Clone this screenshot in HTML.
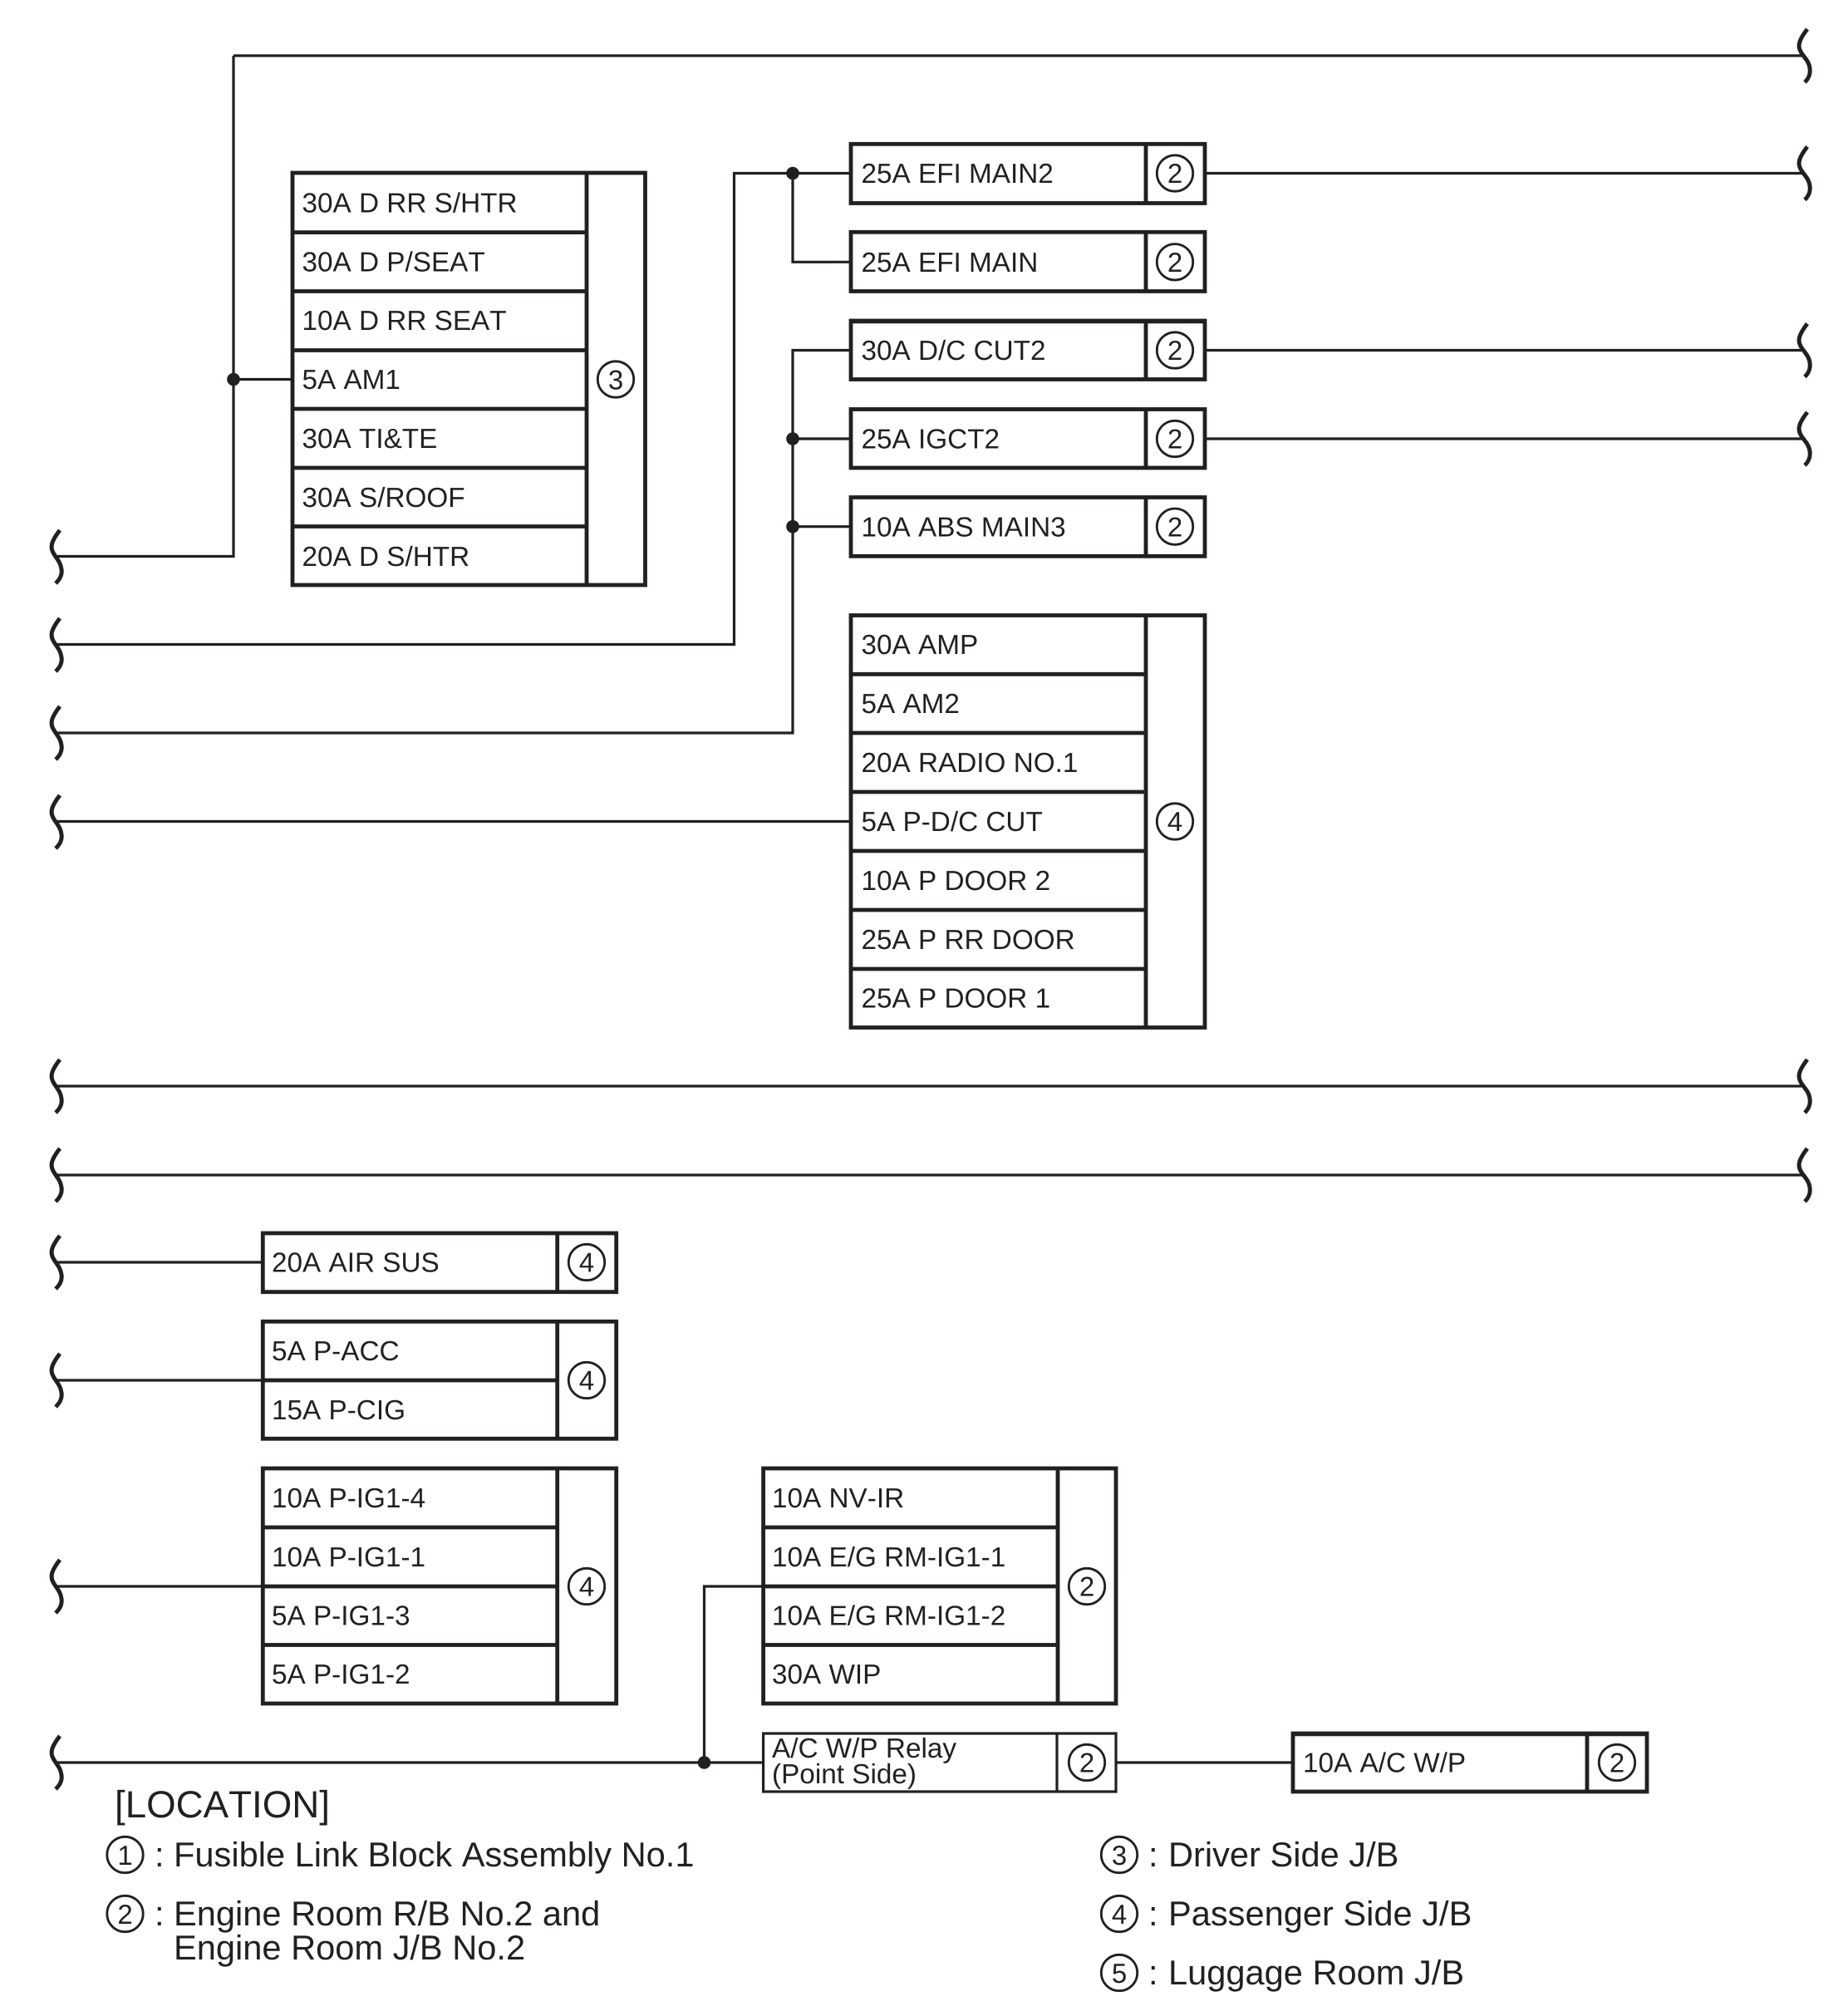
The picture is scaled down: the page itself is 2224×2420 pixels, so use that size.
<!DOCTYPE html>
<html>
<head>
<meta charset="utf-8">
<style>
html,body{margin:0;padding:0;background:#fff;}
svg{display:block;}
text{font-family:"Liberation Sans",Arial,sans-serif;fill:#231f20;font-kerning:none;text-rendering:geometricPrecision;}
.t{font-size:33.3px;}
.n{font-size:33px;text-anchor:middle;}
.l{font-size:41.6px;}
.h{font-size:45.7px;}
.w{fill:none;stroke:#231f20;stroke-width:3.2;}
.b{fill:none;stroke:#231f20;stroke-width:4.8;}
.c{fill:none;stroke:#231f20;stroke-width:2.8;}
.s{fill:none;stroke:#231f20;stroke-width:5;stroke-linecap:butt;}
.d{fill:#231f20;}
</style>
</head>
<body>
<svg xmlns="http://www.w3.org/2000/svg" width="2224" height="2420" viewBox="0 0 2224 2420">
<rect width="2224" height="2420" fill="#fff"/>

<!-- wires -->
<path class="w" d="M281 67H2172M281 67V669.5H69M281 456.5H352"/>
<path class="w" d="M69 775.5H883.5V208.5H1024M954 208.5V315.3H1024"/>
<path class="w" d="M69 882H954V421.5H1024M954 528H1024M954 633.7H1024"/>
<path class="w" d="M69 988.5H1024"/>
<path class="w" d="M1450 208.5H2172M1450 421.5H2172M1450 528H2172"/>
<path class="w" d="M69 1307H2172M69 1414H2172"/>
<path class="w" d="M69 1519H316M69 1661H316M69 1909H316"/>
<path class="w" d="M69 2121H918M847.5 2121V1909H918M1343 2121H1556"/>

<!-- junction dots -->
<circle class="d" cx="281" cy="456.5" r="7.8"/>
<circle class="d" cx="954" cy="208.5" r="7.8"/>
<circle class="d" cx="954" cy="528" r="7.8"/>
<circle class="d" cx="954" cy="633.7" r="7.8"/>
<circle class="d" cx="847.5" cy="2121" r="7.8"/>

<!-- squiggles left -->
<path class="s" d="M72 638C62 651 60 658 64 665C67 671 73 676 74 685C75 692 72 697 67 702"/>
<path class="s" d="M72 744C62 757 60 764 64 771C67 777 73 782 74 791C75 798 72 803 67 808"/>
<path class="s" d="M72 850C62 863 60 870 64 877C67 883 73 888 74 897C75 904 72 909 67 914"/>
<path class="s" d="M72 957C62 970 60 977 64 984C67 990 73 995 74 1004C75 1011 72 1016 67 1021"/>
<path class="s" d="M72 1275C62 1288 60 1295 64 1302C67 1308 73 1313 74 1322C75 1329 72 1334 67 1339"/>
<path class="s" d="M72 1382C62 1395 60 1402 64 1409C67 1415 73 1420 74 1429C75 1436 72 1441 67 1446"/>
<path class="s" d="M72 1487C62 1500 60 1507 64 1514C67 1520 73 1525 74 1534C75 1541 72 1546 67 1551"/>
<path class="s" d="M72 1629C62 1642 60 1649 64 1656C67 1662 73 1667 74 1676C75 1683 72 1688 67 1693"/>
<path class="s" d="M72 1877C62 1890 60 1897 64 1904C67 1910 73 1915 74 1924C75 1931 72 1936 67 1941"/>
<path class="s" d="M72 2089C62 2102 60 2109 64 2116C67 2122 73 2127 74 2136C75 2143 72 2148 67 2153"/>

<!-- squiggles right -->
<path class="s" d="M2175 35C2165 48 2163 55 2167 62C2170 68 2177 73 2178 82C2179 89 2177 94 2172 99"/>
<path class="s" d="M2175 176.5C2165 189.5 2163 196.5 2167 203.5C2170 209.5 2177 214.5 2178 223.5C2179 230.5 2177 235.5 2172 240.5"/>
<path class="s" d="M2175 389.5C2165 402.5 2163 409.5 2167 416.5C2170 422.5 2177 427.5 2178 436.5C2179 443.5 2177 448.5 2172 453.5"/>
<path class="s" d="M2175 496C2165 509 2163 516 2167 523C2170 529 2177 534 2178 543C2179 550 2177 555 2172 560"/>
<path class="s" d="M2175 1275C2165 1288 2163 1295 2167 1302C2170 1308 2177 1313 2178 1322C2179 1329 2177 1334 2172 1339"/>
<path class="s" d="M2175 1382C2165 1395 2163 1402 2167 1409C2170 1415 2177 1420 2178 1429C2179 1436 2177 1441 2172 1446"/>

<!-- box group: driver side -->
<rect class="b" x="352" y="208" width="424.5" height="496"/>
<path class="b" d="M706 208V704M352 279.6H706M352 350.5H706M352 421.5H706M352 492H706M352 563H706M352 633.5H706"/>
<circle class="c" cx="741" cy="456.5" r="21.7"/><text class="n" x="741" y="468.5">3</text>
<text class="t" x="363.5" y="255.5">30A D RR S/HTR</text>
<text class="t" x="363.5" y="326.5">30A D P/SEAT</text>
<text class="t" x="363.5" y="397">10A D RR SEAT</text>
<text class="t" x="363.5" y="468">5A AM1</text>
<text class="t" x="363.5" y="539">30A TI&amp;TE</text>
<text class="t" x="363.5" y="610">30A S/ROOF</text>
<text class="t" x="363.5" y="681">20A D S/HTR</text>

<!-- single boxes -->
<rect class="b" x="1024" y="173.3" width="426" height="71.2"/><path class="b" d="M1379 173.3V244.5"/>
<circle class="c" cx="1414" cy="208.5" r="21.7"/><text class="n" x="1414" y="220">2</text>
<text class="t" x="1036.5" y="220">25A EFI MAIN2</text>

<rect class="b" x="1024" y="279.3" width="426" height="71.2"/><path class="b" d="M1379 279.3V350.5"/>
<circle class="c" cx="1414" cy="315.3" r="21.7"/><text class="n" x="1414" y="327">2</text>
<text class="t" x="1036.5" y="327">25A EFI MAIN</text>

<rect class="b" x="1024" y="386" width="426" height="70.5"/><path class="b" d="M1379 386V456.5M1024 386.8H1450"/>
<circle class="c" cx="1414" cy="421.5" r="21.7"/><text class="n" x="1414" y="433">2</text>
<text class="t" x="1036.5" y="433">30A D/C CUT2</text>

<rect class="b" x="1024" y="492.5" width="426" height="70.5"/><path class="b" d="M1379 492.5V563"/>
<circle class="c" cx="1414" cy="528" r="21.7"/><text class="n" x="1414" y="539.5">2</text>
<text class="t" x="1036.5" y="539.5">25A IGCT2</text>

<rect class="b" x="1024" y="598.5" width="426" height="70.8"/><path class="b" d="M1379 598.5V669.3"/>
<circle class="c" cx="1414" cy="633.7" r="21.7"/><text class="n" x="1414" y="645.5">2</text>
<text class="t" x="1036.5" y="645.5">10A ABS MAIN3</text>

<!-- passenger large -->
<rect class="b" x="1024" y="740.5" width="426" height="496"/>
<path class="b" d="M1379 740.5V1236.5M1024 811.3H1379M1024 882H1379M1024 953H1379M1024 1024H1379M1024 1095H1379M1024 1166H1379"/>
<circle class="c" cx="1414" cy="988.5" r="21.7"/><text class="n" x="1414" y="1000">4</text>
<text class="t" x="1036.5" y="787">30A AMP</text>
<text class="t" x="1036.5" y="858">5A AM2</text>
<text class="t" x="1036.5" y="929">20A RADIO NO.1</text>
<text class="t" x="1036.5" y="1000">5A P-D/C CUT</text>
<text class="t" x="1036.5" y="1071">10A P DOOR 2</text>
<text class="t" x="1036.5" y="1142">25A P RR DOOR</text>
<text class="t" x="1036.5" y="1212.5">25A P DOOR 1</text>

<!-- air sus -->
<rect class="b" x="316.3" y="1484" width="425.4" height="70.7"/><path class="b" d="M670.7 1484V1554.7"/>
<circle class="c" cx="706" cy="1519" r="21.7"/><text class="n" x="706" y="1530.5">4</text>
<text class="t" x="327" y="1530.5">20A AIR SUS</text>

<!-- P-ACC -->
<rect class="b" x="316.3" y="1590.3" width="425.4" height="141"/><path class="b" d="M670.7 1590.3V1731.3M316.3 1661H670.7"/>
<circle class="c" cx="706" cy="1661" r="21.7"/><text class="n" x="706" y="1672.5">4</text>
<text class="t" x="327" y="1637">5A P-ACC</text>
<text class="t" x="327" y="1708">15A P-CIG</text>

<!-- P-IG1 -->
<rect class="b" x="316.3" y="1767" width="425.4" height="283"/><path class="b" d="M670.7 1767V2050M316.3 1838H670.7M316.3 1909H670.7M316.3 1979.5H670.7"/>
<circle class="c" cx="706" cy="1909" r="21.7"/><text class="n" x="706" y="1920.5">4</text>
<text class="t" x="327" y="1814">10A P-IG1-4</text>
<text class="t" x="327" y="1885">10A P-IG1-1</text>
<text class="t" x="327" y="1955.5">5A P-IG1-3</text>
<text class="t" x="327" y="2026">5A P-IG1-2</text>

<!-- NV-IR -->
<rect class="b" x="918.6" y="1767" width="424.4" height="283"/><path class="b" d="M1273 1767V2050M918.6 1838H1273M918.6 1909H1273M918.6 1979.5H1273"/>
<circle class="c" cx="1308" cy="1909" r="21.7"/><text class="n" x="1308" y="1920.5">2</text>
<text class="t" x="929" y="1814">10A NV-IR</text>
<text class="t" x="929" y="1885">10A E/G RM-IG1-1</text>
<text class="t" x="929" y="1955.5">10A E/G RM-IG1-2</text>
<text class="t" x="929" y="2026">30A WIP</text>

<!-- relay -->
<rect class="w" x="918.6" y="2086" width="424.4" height="70"/><path class="w" d="M1272 2086V2156"/>
<circle class="c" cx="1308" cy="2121" r="21.7"/><text class="n" x="1308" y="2132.5">2</text>
<text class="t" x="929" y="2115">A/C W/P Relay</text>
<text class="t" x="929" y="2146">(Point Side)</text>

<!-- A/C W/P -->
<rect class="b" x="1556" y="2086" width="426" height="70"/><path class="b" d="M1910 2086V2156M1556 2086.8H1982"/>
<circle class="c" cx="1946" cy="2121" r="21.7"/><text class="n" x="1946" y="2132.5">2</text>
<text class="t" x="1568" y="2132.5">10A A/C W/P</text>

<!-- legend -->
<text class="h" x="138" y="2187">[LOCATION]</text>
<circle class="c" cx="150.5" cy="2232" r="21.7"/><text class="n" x="150.5" y="2244">1</text>
<text class="l" x="186" y="2246">:</text>
<text class="l" x="209" y="2246">Fusible Link Block Assembly No.1</text>
<circle class="c" cx="150.5" cy="2303" r="21.7"/><text class="n" x="150.5" y="2315">2</text>
<text class="l" x="186" y="2317">:</text>
<text class="l" x="209" y="2317">Engine Room R/B No.2 and</text>
<text class="l" x="209" y="2358">Engine Room J/B No.2</text>
<circle class="c" cx="1347" cy="2232" r="21.7"/><text class="n" x="1347" y="2244">3</text>
<text class="l" x="1382" y="2246">:</text>
<text class="l" x="1406" y="2246">Driver Side J/B</text>
<circle class="c" cx="1347" cy="2303" r="21.7"/><text class="n" x="1347" y="2315">4</text>
<text class="l" x="1382" y="2317">:</text>
<text class="l" x="1406" y="2317">Passenger Side J/B</text>
<circle class="c" cx="1347" cy="2374" r="21.7"/><text class="n" x="1347" y="2386">5</text>
<text class="l" x="1382" y="2388">:</text>
<text class="l" x="1406" y="2388">Luggage Room J/B</text>
</svg>
</body>
</html>
